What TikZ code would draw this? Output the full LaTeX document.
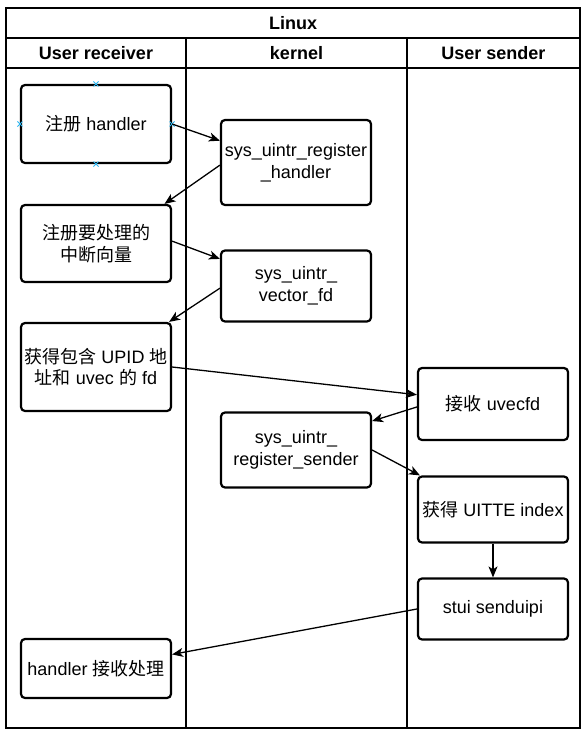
\documentclass[tikz,border=0pt]{standalone}
\usepackage{fontspec}
\setmainfont{Liberation Sans}
\newfontfamily\cjk{Noto Sans CJK SC}
\usetikzlibrary{arrows.meta,calc}
\definecolor{markblue}{HTML}{29B6F2}
\begin{document}
\begin{tikzpicture}[x=1pt,y=-1pt,
  lane/.style={line width=1.3pt},
  hdr/.style={font=\fontsize{18}{21.6}\selectfont\bfseries, inner sep=0pt},
  box/.style={draw, line width=2.2pt, rounded corners=4pt, align=center,
    font=\fontsize{18}{21.6}\selectfont, inner sep=0pt, minimum width=150pt},
  conn/.style={line width=1.3pt, -{Stealth[length=11pt,width=9pt,inset=3pt]}},
  mk/.style={draw=markblue, line width=0.9pt}
]
\useasboundingbox (0,0) rectangle (588,736);
% swimlane frame
\draw[lane] (6,8) rectangle (580,728);
\draw[lane] (6,38) -- (580,38);
\draw[lane] (6,68) -- (580,68);
\draw[lane] (186,38) -- (186,728);
\draw[lane] (407,38) -- (407,728);
\node[hdr] (title) at (293,23) {Linux};
\node[hdr] (h1) at (96,53) {User receiver};
\node[hdr] (h2) at (296.5,53) {kernel};
\node[hdr] (h3) at (493.5,53) {User sender};
% boxes
\node[box, minimum height=78pt] (b1) at (96,124) {{\cjk 注册} handler};
\node[box, minimum height=85pt] (b2) at (296,162.5) {sys\_uintr\_register\\\_handler};
\node[box, minimum height=77pt] (b3) at (96,243.5) {{\cjk 注册要处理的}\\{\cjk 中断向量}};
\node[box, minimum height=71pt] (b4) at (296,286) {sys\_uintr\_\\vector\_fd};
\node[box, minimum height=88pt] (b5) at (96,367) {{\cjk 获得包含} UPID {\cjk 地}\\{\cjk 址和} uvec {\cjk 的} fd};
\node[box, minimum height=72pt] (b6) at (493,404) {{\cjk 接收} uvecfd};
\node[box, minimum height=75pt] (b7) at (296,450) {sys\_uintr\_\\register\_sender};
\node[box, minimum height=66pt] (b8) at (493,509.5) {{\cjk 获得} UITTE index};
\node[box, minimum height=61pt] (b9) at (493,609) {stui senduipi};
\node[box, minimum height=59pt] (b10) at (96,668.5) {handler {\cjk 接收处理}};
% connection-point marks on b1
\foreach \a in {north,south,east,west}{
  \draw[mk] ($(b1.\a)+(-2.5,-2.5)$) -- ($(b1.\a)+(2.5,2.5)$);
  \draw[mk] ($(b1.\a)+(-2.5,2.5)$) -- ($(b1.\a)+(2.5,-2.5)$);
}
% connectors
\draw[conn] (b1.east) -- ($(b2.north west)!0.25!(b2.south west)$);
\draw[conn] ($(b2.north west)!0.53!(b2.south west)$) -- ($(b3.north west)!0.95!(b3.north east)$);
\draw[conn] ($(b3.north east)!0.47!(b3.south east)$) -- ($(b4.north west)!0.13!(b4.south west)$);
\draw[conn] ($(b4.north west)!0.53!(b4.south west)$) -- ($(b5.north west)!0.98!(b5.north east)$);
\draw[conn] (b5.east) -- ($(b6.north west)!0.375!(b6.south west)$);
\draw[conn] ($(b6.north west)!0.54!(b6.south west)$) -- ($(b7.north east)!0.125!(b7.south east)$);
\draw[conn] (b7.east) -- ($(b8.north west)!0.02!(b8.north east)$);
\draw[conn] (b8.south) -- (b9.north);
\draw[conn] (b9.west) -- ($(b10.north east)!0.27!(b10.south east)$);
\end{tikzpicture}
\end{document}
